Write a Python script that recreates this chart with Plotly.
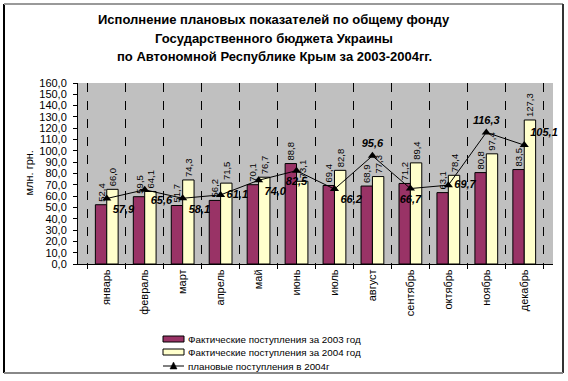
import plotly.graph_objects as go

months = ["январь", "февраль", "март", "апрель", "май", "июнь", "июль",
          "август", "сентябрь", "октябрь", "ноябрь", "декабрь"]
fact_2003 = [52.4, 59.5, 51.7, 56.2, 70.1, 88.8, 69.4, 68.9, 71.2, 63.1, 80.8, 83.5]
fact_2004 = [66.0, 64.1, 74.3, 71.5, 76.7, 73.1, 82.8, 77.3, 89.4, 78.4, 97.4, 127.3]
plan_2004 = [57.9, 65.6, 58.1, 61.1, 74.0, 82.5, 66.2, 95.6, 66.7, 69.7, 116.3, 105.1]
plan_label_pos = ["bottom right", "bottom right", "bottom right", "middle right",
                  "bottom right", "bottom center", "bottom right", "top center",
                  "bottom center", "middle right", "top center", "top right"]
series_names = ["Фактические поступления за 2003 год",
                "Фактические поступления за 2004 год",
                "плановые поступления в 2004г"]
title_lines = ["Исполнение плановых показателей по общему фонду",
               "Государственного бюджета Украины",
               "по Автономной Республике Крым за 2003-2004гг."]

FONT = "Arial, Liberation Sans, sans-serif"
C2003, C2004 = "#993366", "#FFFFCC"

# plot-area geometry in pixels (for paper-coordinate conversion of decorations)
L, R, T, B, W, H = 78, 553, 83, 264, 568, 381
PW, PH = R - L, B - T
px = lambda x: (x - L) / PW
py = lambda y: (B - y) / PH

fig = go.Figure()
fig.add_trace(go.Bar(
    x=months, y=fact_2003, name=series_names[0],
    marker=dict(color=C2003, line=dict(color="black", width=1)),
    texttemplate="%{y:.1f}", textposition="outside",
    textangle=-90, textfont=dict(family=FONT, size=9.5, color="black"),
    cliponaxis=False, constraintext="none",
))
fig.add_trace(go.Bar(
    x=months, y=fact_2004, name=series_names[1],
    marker=dict(color=C2004, line=dict(color="black", width=1)),
    texttemplate="%{y:.1f}", textposition="outside",
    textangle=-90, textfont=dict(family=FONT, size=9.5, color="black"),
    cliponaxis=False, constraintext="none",
))
fig.add_trace(go.Scatter(
    x=months, y=plan_2004, name=series_names[2],
    mode="lines+markers+text",
    line=dict(color="black", width=1),
    marker=dict(symbol="triangle-up", size=8, color="black"),
    texttemplate="<b><i>%{y:.1f}</i></b>", textposition=plan_label_pos,
    textfont=dict(family=FONT, size=11, color="black"),
    cliponaxis=False,
))

annotations = []
for i, line in enumerate(title_lines):
    annotations.append(dict(
        text="<b>%s</b>" % line, xref="paper", yref="paper",
        x=px(274), y=py(19 + 19 * i), xanchor="center", yanchor="middle",
        showarrow=False, font=dict(family=FONT, size=13, color="black"),
    ))
annotations.append(dict(
    text="млн. грн.", xref="paper", yref="paper",
    x=px(28), y=0.5, xanchor="center", yanchor="middle",
    textangle=-90, showarrow=False, font=dict(family=FONT, size=11),
))

shapes = [
    dict(type="line", xref="paper", yref="paper",
         x0=px(4), x1=px(4), y0=py(4), y1=py(373),
         line=dict(color="black", width=2)),
    dict(type="line", xref="paper", yref="paper",
         x0=px(4), x1=px(563), y0=py(4), y1=py(4),
         line=dict(color="#999999", width=2)),
    dict(type="line", xref="paper", yref="paper",
         x0=px(563), x1=px(563), y0=py(4), y1=py(373),
         line=dict(color="#333333", width=2)),
    dict(type="line", xref="paper", yref="paper",
         x0=px(4), x1=px(563), y0=py(373), y1=py(373),
         line=dict(color="#888888", width=2)),
]

# legend (drawn as decorations to match the compact row spacing)
rows = [339, 352, 366]
for i, name in enumerate(series_names):
    y = rows[i]
    if i < 2:
        shapes.append(dict(
            type="rect", xref="paper", yref="paper",
            x0=px(163), x1=px(184), y0=py(y + 3), y1=py(y - 3),
            fillcolor=[C2003, C2004][i], line=dict(color="black", width=1),
        ))
    else:
        shapes.append(dict(
            type="line", xref="paper", yref="paper",
            x0=px(163), x1=px(184), y0=py(y), y1=py(y),
            line=dict(color="black", width=1),
        ))
        shapes.append(dict(
            type="path", xref="paper", yref="paper",
            path="M %f %f L %f %f L %f %f Z" % (
                px(170), py(y + 3), px(177), py(y + 3), px(173.5), py(y - 4)),
            fillcolor="black", line=dict(color="black", width=0.5),
        ))
    annotations.append(dict(
        text=name, xref="paper", yref="paper", x=px(186), y=py(y),
        xanchor="left", yanchor="middle", showarrow=False,
        font=dict(family=FONT, size=9.8, color="black"),
    ))

fig.update_layout(
    width=W, height=H,
    margin=dict(l=L, r=W - R, t=T, b=H - B),
    paper_bgcolor="white", plot_bgcolor="#C0C0C0",
    separators=", ",
    barmode="group", bargap=0.4, bargroupgap=0,
    font=dict(family=FONT, size=11, color="black"),
    showlegend=False,
    xaxis=dict(
        type="category", tickson="boundaries",
        showgrid=True, gridcolor="black", griddash="dash", gridwidth=1,
        showline=True, linecolor="black", linewidth=1,
        ticks="outside", ticklen=4, tickcolor="black",
        tickangle=-90, tickfont=dict(family=FONT, size=11),
    ),
    yaxis=dict(
        range=[0, 160], dtick=10, tickformat=".1f",
        showgrid=False, zeroline=False,
        showline=True, linecolor="black", linewidth=1,
        ticks="outside", ticklen=4, tickcolor="black",
        ticklabelstandoff=4,
        tickfont=dict(family=FONT, size=11),
    ),
    annotations=annotations,
    shapes=shapes,
)

fig.write_html(
    "out.html",
    config={"displayModeBar": False},
    post_script="document.body.style.margin='0';document.body.style.overflow='hidden';",
)
